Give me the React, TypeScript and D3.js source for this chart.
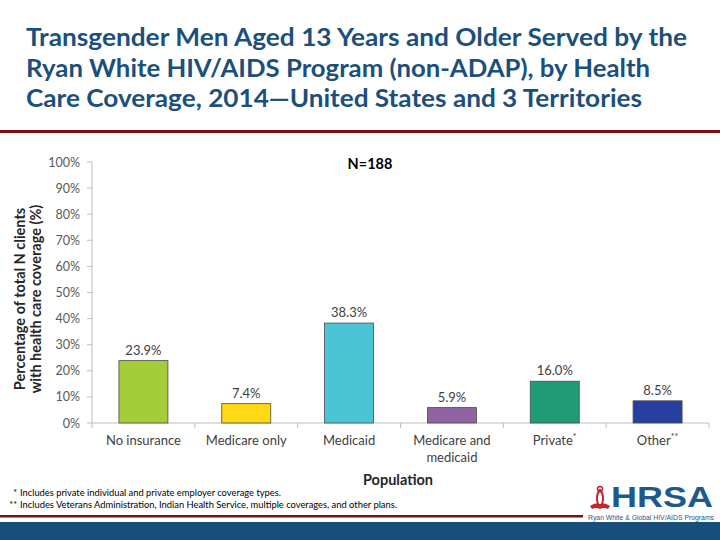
import React from "react";
import * as d3 from "d3";

const categories = ["No insurance", "Medicare only", "Medicaid", "Medicare and medicaid", "Private", "Other"];
const categoryLines: string[][] = [["No insurance"], ["Medicare only"], ["Medicaid"], ["Medicare and", "medicaid"], ["Private"], ["Other"]];
const superscripts = ["", "", "", "", "*", "**"];
const values = [23.9, 7.4, 38.3, 5.9, 16.0, 8.5];
const colors = ["#a3cd39", "#ffd914", "#4bc4d5", "#9063a3", "#1f9c76", "#263f9e"];
const yTicks = [0, 10, 20, 30, 40, 50, 60, 70, 80, 90, 100];
const titleLines = [
  "Transgender Men Aged 13 Years and Older Served by the",
  "Ryan White HIV/AIDS Program (non-ADAP), by Health",
  "Care Coverage, 2014\u2014United States and 3 Territories",
];
const titleWidths = [661, 624, 616];
const footnotes = [
  ["*", "Includes private individual and private employer coverage types."],
  ["**", "Includes Veterans Administration, Indian Health Service, multiple coverages, and other plans."],
];

const FONT = "Lato, 'Open Sans', sans-serif";

export default function App() {
  const left = 92, right = 709, top = 162, bottom = 423;
  const x = d3.scaleBand<string>().domain(categories).range([left, right]).padding(0);
  const y = d3.scaleLinear().domain([0, 100]).range([bottom, top]);
  const bw = x.bandwidth();
  const barW = 49;

  return (
    <svg width={720} height={540} style={{ position: "absolute", left: 0, top: 0, background: "#fff" }}>
      <rect x={0} y={0} width={720} height={540} fill="#fff" />
      {titleLines.map((t, i) => (
        <text key={i} x={26} y={46 + i * 30.5} fill="#1b4f7c" fontFamily={FONT} fontWeight="bold" fontSize={24}
          textLength={titleWidths[i]} lengthAdjust="spacingAndGlyphs">{t}</text>
      ))}
      <rect x={0} y={130} width={720} height={3} fill="#7a0f16" />

      {/* y axis */}
      <line x1={left} x2={left} y1={top} y2={bottom} stroke="#bfbfbf" />
      {yTicks.map((t) => (
        <g key={t}>
          <line x1={left - 5} x2={left} y1={y(t)} y2={y(t)} stroke="#bfbfbf" />
          <text x={80} y={y(t) + 4.5} textAnchor="end" fontFamily={FONT} fontSize={12.5} fill="#595959">{t}%</text>
        </g>
      ))}
      {/* x axis */}
      <line x1={left} x2={right} y1={bottom} y2={bottom} stroke="#bfbfbf" />
      {categories.map((c, i) => (
        <line key={"t" + i} x1={(x(c) as number)} x2={(x(c) as number)} y1={bottom} y2={bottom + 5} stroke="#bfbfbf" />
      ))}
      <line x1={right} x2={right} y1={bottom} y2={bottom + 5} stroke="#bfbfbf" />

      {categories.map((c, i) => {
        const bx = (x(c) as number) + (bw - barW) / 2;
        const cx = (x(c) as number) + bw / 2;
        return (
          <g key={c}>
            <rect x={bx} y={y(values[i])} width={barW} height={bottom - y(values[i])} fill={colors[i]} stroke="#4a4a4a" strokeWidth={0.8} />
            <text x={cx} y={y(values[i]) - 6} textAnchor="middle" fontFamily={FONT} fontSize={13} fill="#404040">{values[i].toFixed(1)}%</text>
            {categoryLines[i].map((l, j) => (
              <text key={j} x={cx} y={445 + j * 17} textAnchor="middle" fontFamily={FONT} fontSize={13} fill="#404040">
                {l}
                {superscripts[i] && j === categoryLines[i].length - 1 ? (
                  <tspan dy={-5} fontSize={9}>{superscripts[i]}</tspan>
                ) : null}
              </text>
            ))}
          </g>
        );
      })}

      <text x={370} y={169} textAnchor="middle" fontFamily={FONT} fontWeight="bold" fontSize={14.5} fill="#000">N=188</text>
      <text x={398} y={485} textAnchor="middle" fontFamily={FONT} fontWeight="bold" fontSize={14.5} fill="#262626">Population</text>
      <g transform="translate(0,299) rotate(-90)">
        <text x={0} y={25} textAnchor="middle" fontFamily={FONT} fontWeight="bold" fontSize={14.5} fill="#262626">Percentage of total N clients</text>
        <text x={0} y={41} textAnchor="middle" fontFamily={FONT} fontWeight="bold" fontSize={14.5} fill="#262626">with health care coverage (%)</text>
      </g>

      {footnotes.map((f, i) => (
        <g key={i}>
          <text x={17} y={496 + i * 12} textAnchor="end" fontFamily={FONT} fontSize={9} fill="#000">{f[0]}</text>
          <text x={20} y={496 + i * 12} fontFamily={FONT} fontSize={9} fill="#000"
            textLength={i === 0 ? 261 : 377} lengthAdjust="spacingAndGlyphs">{f[1]}</text>
        </g>
      ))}

      <rect x={0} y={515} width={583} height={2.5} fill="#7a0f16" />
      <rect x={0} y={522} width={720} height={18} fill="#174f7c" />

      {/* logo */}
      <g>
        <path d="M590,506 q6,-4 10,-2 q4,-2 10,2 l-2,3 q-4,-2 -8,0 q-4,-2 -8,0 z" fill="#c0262d" />
        <path d="M598,504 q-3,-8 2,-14 q5,6 2,14" fill="none" stroke="#c0262d" strokeWidth={2} />
        <circle cx={600} cy={489} r={2.5} fill="none" stroke="#c0262d" strokeWidth={1.5} />
        <text x={611} y={507} fontFamily="'Liberation Sans', Arial, sans-serif" fontWeight="bold" fontSize={29}
          fill="#1c5a8e" textLength={102} lengthAdjust="spacingAndGlyphs">HRSA</text>
        <text x={588} y={520} fontFamily="'Liberation Sans', Arial, sans-serif" fontSize={6.5} fill="#1c5a8e"
          textLength={126} lengthAdjust="spacingAndGlyphs">Ryan White &amp; Global HIV/AIDS Programs</text>
      </g>
    </svg>
  );
}
